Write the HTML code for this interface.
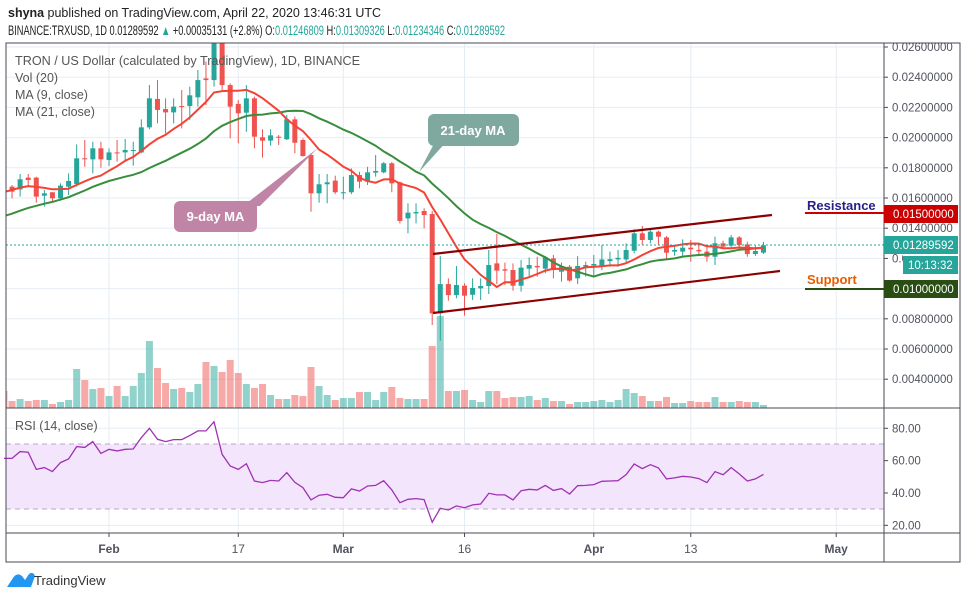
<!DOCTYPE html>
<html><head><meta charset="utf-8"><style>
html,body{margin:0;padding:0;background:#fff;}
svg{display:block;font-family:"Liberation Sans",sans-serif;}
</style></head><body>
<svg id="chart" width="967" height="599" viewBox="0 0 967 599" xmlns="http://www.w3.org/2000/svg">
<defs><clipPath id="mainClip"><rect x="6" y="43" width="878" height="365"/></clipPath></defs>
<text x="8" y="17" font-size="12.5" fill="#222" textLength="373" lengthAdjust="spacingAndGlyphs"><tspan font-weight="bold">shyna</tspan> published on TradingView.com, April 22, 2020 13:46:31 UTC</text>
<text x="8" y="35" font-size="13.5" fill="#222" textLength="497" lengthAdjust="spacingAndGlyphs">BINANCE:TRXUSD, 1D  0.01289592 <tspan fill="#26a69a">▲</tspan> +0.00035131 (+2.8%) O:<tspan fill="#26a69a">0.01246809</tspan> H:<tspan fill="#26a69a">0.01309326</tspan> L:<tspan fill="#26a69a">0.01234346</tspan> C:<tspan fill="#26a69a">0.01289592</tspan></text>
<g id="grid"></g>
<rect x="6" y="444" width="878" height="65" fill="#f3e6fc"/>
<line x1="6" x2="884" y1="444" y2="444" stroke="#b9a8c4" stroke-dasharray="5,4"/>
<line x1="6" x2="884" y1="509" y2="509" stroke="#b9a8c4" stroke-dasharray="5,4"/>
<g id="vol" clip-path="url(#mainClip)"></g>
<g id="candles" clip-path="url(#mainClip)"></g>
<g id="mas" clip-path="url(#mainClip)"></g>
<g id="rsi"></g>
<line x1="6" x2="884" y1="245" y2="245" stroke="#26a69a" stroke-dasharray="2,2"/>
<line x1="433" y1="254" x2="772" y2="215" stroke="#8b0000" stroke-width="2.2"/>
<line x1="433" y1="313" x2="780" y2="271" stroke="#8b0000" stroke-width="2.2"/>
<g>
<path d="M436,140 L419,172 L448,140 Z" fill="#7fa89f"/>
<rect x="428" y="114" width="91" height="32" rx="6" fill="#7fa89f"/>
<text x="473" y="135" font-size="13" font-weight="bold" fill="#fff" text-anchor="middle">21-day MA</text>
</g>
<g>
<path d="M243,206 L318,148 L260,206 Z" fill="#c085a6"/>
<rect x="174" y="201" width="83" height="31" rx="6" fill="#c085a6"/>
<text x="215.5" y="221" font-size="13" font-weight="bold" fill="#fff" text-anchor="middle">9-day MA</text>
</g>
<g font-size="12.5" fill="#555">
<text x="15" y="65" textLength="345" lengthAdjust="spacingAndGlyphs">TRON / US Dollar (calculated by TradingView), 1D, BINANCE</text>
<text x="15" y="82">Vol (20)</text>
<text x="15" y="99">MA (9, close)</text>
<text x="15" y="116">MA (21, close)</text>
<text x="15" y="430">RSI (14, close)</text>
</g>
<g id="axes"></g>
<line x1="805" x2="884" y1="213" y2="213" stroke="#cc0000" stroke-width="2"/>
<text x="807" y="210" font-size="13" font-weight="bold" fill="#2a1f8a">Resistance</text>
<line x1="805" x2="884" y1="289" y2="289" stroke="#2a4d14" stroke-width="2"/>
<text x="807" y="284" font-size="13" font-weight="bold" fill="#e65c00">Support</text>
<g><rect x="884" y="205" width="74" height="18" fill="#cc0000"/><text x="893" y="218" font-size="11.5" fill="#fff">0.01500000</text></g>
<g><rect x="884" y="236" width="74" height="18" fill="#26a69a"/><text x="893" y="249" font-size="11.5" fill="#fff">0.01289592</text></g>
<rect x="903" y="254" width="56" height="3" fill="#fff"/>
<g><rect x="903" y="256" width="55" height="18" fill="#26a69a"/><text x="908" y="269" font-size="11.5" fill="#fff">10:13:32</text></g>
<g><rect x="884" y="280" width="74" height="18" fill="#2a4d14"/><text x="893" y="293" font-size="11.5" fill="#fff">0.01000000</text></g>
<g>
<path d="M7,587 L13,578 Q17,572 22,576 L25,580 L29,574 Q33,571 35,576 L31,587 Z" fill="#2196f3"/>
<text x="34" y="585" font-size="13" fill="#333">TradingView</text>
</g>
</svg>
<script>
const startDay = -13;
const priorCloseK = [13.0,13.1,13.3,13.2,13.4,13.5,13.6,13.8,13.9,14.0,14.1,14.35,15.2,15.8,16.3,16.6,16.9,16.8,16.7,16.9];
const openK = [16.75,16.75,16.57,17.35,17.35,16.15,16.38,15.98,16.75,16.93,18.63,18.56,19.29,18.52,19.02,19.02,19.11,19.02,20.68,22.56,21.89,21.67,22.09,22.09,22.67,23.92,23.81,26.24,23.48,22.23,21.65,22.60,20.02,19.80,20.06,19.89,21.21,19.84,18.85,16.31,16.91,17.15,16.31,16.38,17.52,17.08,17.68,17.70,18.30,17.04,14.65,14.98,15.14,14.94,
8.36,10.30,9.57,10.19,9.59,10.02,10.17,11.67,11.28,11.23,10.19,11.32,11.50,11.32,12.00,11.12,11.45,10.68,11.45,11.52,11.50,11.82,11.93,11.93,12.51,13.66,13.22,13.77,13.39,12.45,12.45,12.71,12.56,12.45,12.11,13.00,12.84,13.39,12.93,12.29,12.38];
const highK = [17.63,16.86,17.59,17.59,17.41,16.53,16.38,16.97,17.63,19.55,19.84,19.73,19.73,19.29,19.84,19.91,19.73,21.21,23.48,23.81,22.60,22.60,23.15,23.37,24.48,25.03,27.00,27.00,23.59,22.49,23.48,22.71,20.55,20.55,20.17,21.50,21.39,19.95,18.96,17.59,17.59,17.48,17.41,17.96,17.74,18.07,18.85,18.38,18.38,17.08,15.65,15.65,15.32,15.14,
12.15,10.68,11.50,10.35,10.68,10.68,12.56,13.62,11.72,11.67,11.89,12.07,12.11,12.15,12.23,11.72,11.56,12.15,11.78,12.23,12.89,12.45,12.56,13.00,13.93,14.15,13.93,13.84,13.48,12.89,13.26,13.22,12.96,12.82,13.44,13.17,13.55,13.48,13.11,12.84,13.09];
const lowK = [15.98,15.98,16.09,16.75,15.69,15.43,15.76,15.82,16.20,16.75,18.07,17.63,18.01,18.12,18.41,18.41,18.14,18.96,20.55,20.94,20.28,20.94,20.61,21.17,22.05,22.16,23.37,23.15,19.95,19.62,20.39,19.29,18.67,19.47,19.51,19.84,18.96,18.74,15.09,15.69,15.65,16.26,15.91,16.26,16.64,16.86,17.41,17.63,16.38,14.32,13.66,14.32,13.99,7.59,
6.55,9.20,9.36,8.21,9.24,9.24,9.64,10.30,10.24,9.86,9.80,10.79,10.79,11.01,10.68,10.46,10.46,10.30,10.79,10.79,11.23,11.45,11.45,11.67,12.34,12.89,13.00,12.89,11.89,12.17,12.11,11.78,12.15,11.78,11.56,12.62,12.73,12.56,12.11,12.17,12.29];
const closeK = [16.35,16.42,17.24,17.19,16.09,16.31,15.98,16.82,17.13,18.63,18.56,19.29,18.56,19.02,18.96,19.18,19.18,20.68,22.60,21.83,21.67,22.05,22.05,22.80,23.81,23.81,26.24,23.48,22.05,21.61,22.60,20.06,19.80,20.15,19.99,21.21,19.66,18.78,16.31,16.91,17.04,16.38,16.38,17.52,17.08,17.70,17.79,18.30,16.97,14.48,15.03,15.07,14.87,8.36,
10.30,9.57,10.24,9.53,10.04,10.17,11.56,11.19,11.19,10.19,11.39,11.56,11.41,12.07,11.23,11.45,10.53,11.50,11.56,11.63,11.93,11.95,12.04,12.56,13.66,13.22,13.77,13.44,12.38,12.56,12.71,12.60,12.47,12.11,13.00,12.78,13.39,12.89,12.29,12.49,12.87];
const volumeM = [68,28,36,28,32,32,16,24,32,156,112,76,80,48,88,48,88,140,268,160,100,76,80,64,96,184,168,144,192,140,96,80,96,52,36,36,52,48,164,88,52,32,40,40,64,64,32,64,84,40,36,36,36,248,
368,68,68,72,32,24,68,68,40,44,44,48,32,40,28,28,16,24,24,28,32,24,32,76,60,48,28,28,44,20,20,28,24,24,44,24,24,28,24,24,12];
const rsiValues = [61.4,61.4,65.6,65.2,54.6,55.7,53.2,58.8,61.0,68.7,68.2,71.8,64.5,67.0,66.0,67.0,67.2,74.2,80.0,73.2,71.8,73.0,73.0,75.5,78.4,78.4,84.1,63.9,56.7,54.6,58.1,47.4,46.4,47.8,47.4,52.6,46.6,43.3,35.7,38.6,39.2,37.3,37.1,42.5,41.2,44.3,44.7,47.6,41.9,34.0,36.1,36.5,35.9,
21.9,30.5,29.5,32.0,30.9,32.6,33.2,39.8,38.8,38.8,35.7,41.4,42.3,41.9,44.7,41.6,42.7,39.4,44.5,44.7,45.2,47.2,47.4,47.6,51.3,57.9,55.1,57.5,55.5,48.7,49.3,50.3,49.9,48.9,46.4,53.2,51.3,55.7,51.8,47.4,48.7,51.5];
const priceTicksK = [26,24,22,20,18,16,14,12,8,6,4];
const priceTickLabels = ["0.02600000","0.02400000","0.02200000","0.02000000","0.01800000","0.01600000","0.01400000","0.01200000","0.00800000","0.00600000","0.00400000"];
const rsiTicks = [80,60,40,20];
const rsiTickLabels = ["80.00","60.00","40.00","20.00"];
const timeTickDays = [0,16,29,44,60,72,90];
const timeTickLabels = ["Feb","17","Mar","16","Apr","13","May"];
const timeTickBold = [true,false,true,false,true,false,true];

const NS = "http://www.w3.org/2000/svg";
function xD(d){ return 109 + d*8.08; }
function yP(k){ return 47 + (26 - k)*15.1; }
function yV(v){ return 408 - v/4; }
function yR(r){ return 428.3 + (80 - r)*1.617; }
function mk(tag, attrs, parent){ const e=document.createElementNS(NS,tag); for(const k in attrs) e.setAttribute(k, attrs[k]); parent.appendChild(e); return e; }

const grid = document.getElementById('grid');
priceTicksK.forEach(function(k){
  const l = mk('line',{x1:6,x2:884,y1:yP(k),y2:yP(k),stroke:'#e6edf2'},grid);
  
  
});
[10].forEach(function(k){
  const l = mk('line',{x1:6,x2:884,y1:yP(k),y2:yP(k),stroke:'#e6edf2'},grid);
  
  
});
rsiTicks.forEach(function(r){
  const l = mk('line',{x1:6,x2:884,y1:yR(r),y2:yR(r),stroke:'#e6edf2'},grid);
  
  
});
timeTickDays.forEach(function(d){
  const l = mk('line',{x1:xD(d),x2:xD(d),y1:43,y2:533,stroke:'#e6edf2'},grid);
  
  
});

const volG = document.getElementById('vol');
volumeM.forEach(function(v,i){
  const d = startDay + i;
  const up = closeK[i] >= openK[i];
  const r = mk('rect',{x:xD(d)-3.5,y:yV(v),width:7,height:408-yV(v),fill:up?'#26a69a':'#ef5350','fill-opacity':0.5},volG);
  
  
});

const cG = document.getElementById('candles');
closeK.forEach(function(c,i){
  const d = startDay + i, o = openK[i];
  const up = c >= o, col = up ? '#26a69a' : '#ef5350';
  const x = xD(d);
  const w = mk('line',{x1:x,x2:x,y1:yP(highK[i]),y2:yP(lowK[i]),stroke:col,'stroke-width':1},cG);
  
  
  const top = yP(Math.max(o,c)), bot = yP(Math.min(o,c));
  const b = mk('rect',{x:x-2.5,y:top,width:5,height:Math.max(1,bot-top),fill:col},cG);
  
  
});

const allClose = priorCloseK.concat(closeK);
function maPoints(n){
  const pts=[];
  for(let i=0;i<closeK.length;i++){
    const j = i + priorCloseK.length;
    let s=0, cnt=0;
    for(let k=Math.max(0,j-n+1);k<=j;k++){ s+=allClose[k]; cnt++; }
    pts.push(xD(startDay+i).toFixed(1)+','+yP(s/cnt).toFixed(1));
  }
  return pts.join(' ');
}
const maG = document.getElementById('mas');
const ma21 = mk('polyline',{points:maPoints(21),fill:'none',stroke:'#388e3c','stroke-width':2},maG);


const ma9 = mk('polyline',{points:maPoints(9),fill:'none',stroke:'#f44336','stroke-width':2},maG);



const rG = document.getElementById('rsi');
const rsiPts = rsiValues.map(function(r,i){ return xD(startDay+i).toFixed(1)+','+yR(r).toFixed(1); }).join(' ');
const rl = mk('polyline',{points:rsiPts,fill:'none',stroke:'#a031b5','stroke-width':1.3},rG);



const ax = document.getElementById('axes');
const frame = mk('rect',{x:6,y:43,width:954,height:519,fill:'none',stroke:'#4a4a55','stroke-width':1},ax);


[[884,43,884,562],[6,408,960,408],[6,533,960,533]].forEach(function(a){
  const l = mk('line',{x1:a[0],y1:a[1],x2:a[2],y2:a[3],stroke:'#4a4a55'},ax);
  
  
});
priceTicksK.forEach(function(k,i){
  const y = yP(k);
  const t = mk('line',{x1:884,x2:888,y1:y,y2:y,stroke:'#4a4a55'},ax);
  
  
  const tx = mk('text',{x:892,y:y+4,'font-size':11.5,fill:'#50535e'},ax);
  tx.textContent = priceTickLabels[i];
  
  
});
rsiTicks.forEach(function(r,i){
  const y = yR(r);
  const t = mk('line',{x1:884,x2:888,y1:y,y2:y,stroke:'#4a4a55'},ax);
  
  
  const tx = mk('text',{x:892,y:y+4,'font-size':11.5,fill:'#50535e'},ax);
  tx.textContent = rsiTickLabels[i];
  
  
});
timeTickDays.forEach(function(d,i){
  const x = xD(d);
  const t = mk('line',{x1:x,x2:x,y1:533,y2:537,stroke:'#4a4a55'},ax);
  
  
  const tx = mk('text',{x:x,y:553,'font-size':12,fill:'#50535e','text-anchor':'middle','font-weight':timeTickBold[i]?'bold':'normal'},ax);
  tx.textContent = timeTickLabels[i];
  
  
});
</script>
</body></html>
